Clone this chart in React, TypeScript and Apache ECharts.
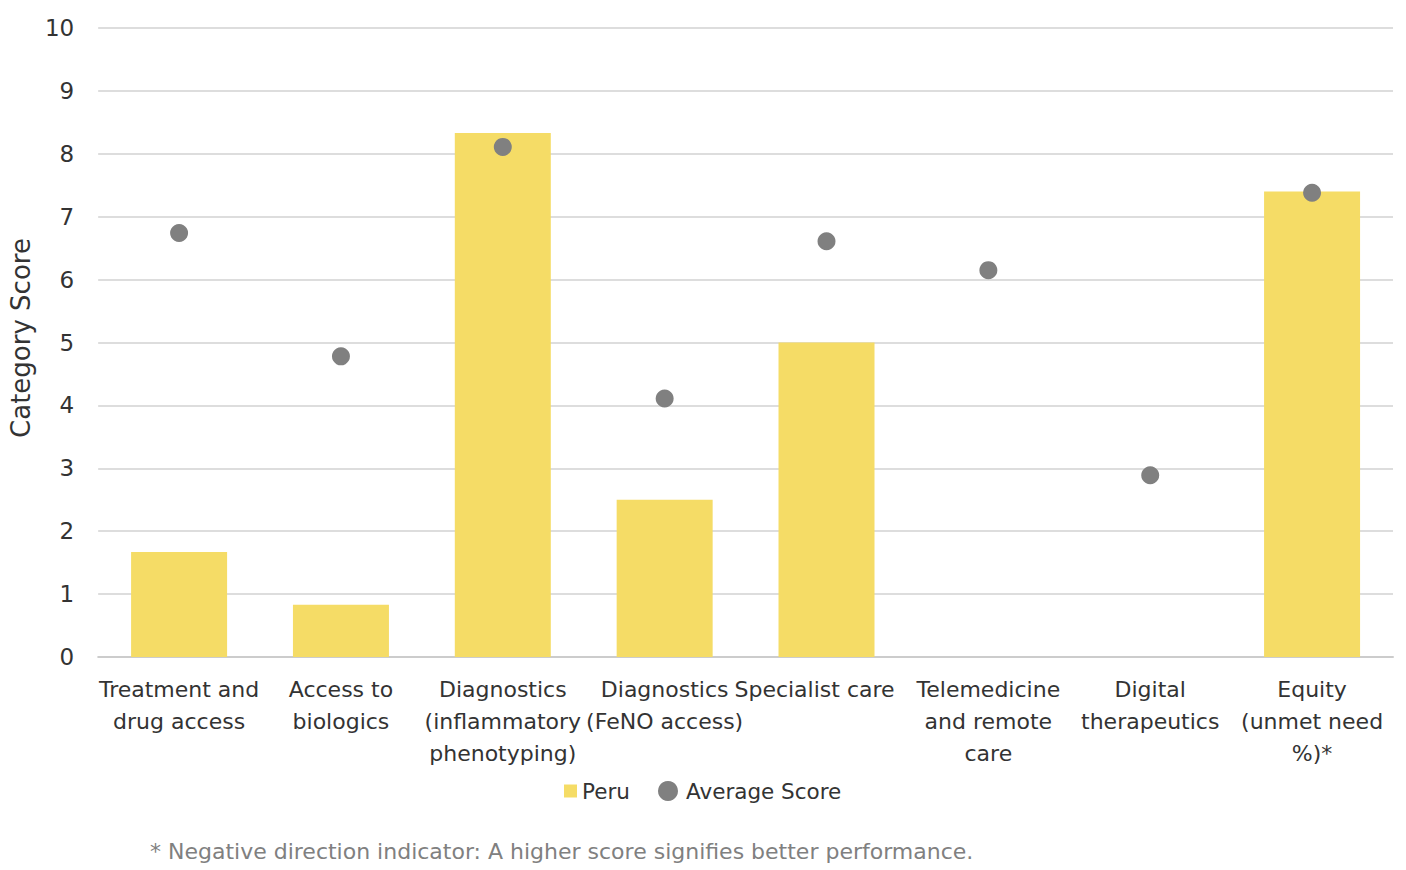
import React, { useEffect, useRef } from "react";
import * as echarts from "echarts";

const categories = [
  "Treatment and\ndrug access",
  "Access to\nbiologics",
  "Diagnostics\n(inflammatory\nphenotyping)",
  "Diagnostics\n(FeNO access)",
  "Specialist care",
  "Telemedicine\nand remote\ncare",
  "Digital\ntherapeutics",
  "Equity\n(unmet need\n%)*",
];
const peruValues = [1.67, 0.83, 8.33, 2.5, 5.0, 0, 0, 7.4];
const averageValues = [6.74, 4.78, 8.11, 4.11, 6.61, 6.15, 2.89, 7.38];
const footnote = "* Negative direction indicator: A higher score signifies better performance.";

export default function App() {
  const ref = useRef<HTMLDivElement>(null);
  useEffect(() => {
    document.body.style.margin = "0";
    const chart = echarts.init(ref.current!, undefined, { renderer: "svg" });
    const font = "DejaVu Sans";
    const legendText = { fontSize: 21.5, color: "#333", fontFamily: font };
    chart.setOption({
      animation: false,
      textStyle: { fontFamily: font },
      grid: { left: 97, right: 13, top: 28, bottom: 213 },
      legend: [
        {
          left: 559,
          top: 775,
          itemWidth: 13,
          itemHeight: 13,
          itemGap: 5,
          textStyle: legendText,
          data: [{ name: "Peru", icon: "rect", itemStyle: { color: "#F5DC66" } }],
        },
        {
          left: 653,
          top: 775,
          itemWidth: 20,
          itemHeight: 20,
          textStyle: { ...legendText, padding: [0, 0, 0, 3] },
          data: [
            { name: "Average Score", icon: "circle", itemStyle: { color: "#808080", opacity: 1 } },
          ],
        },
      ],
      graphic: [
        {
          type: "text",
          left: 150,
          top: 840,
          style: { text: footnote, fontSize: 22, fill: "#808080", fontFamily: font },
        },
      ],
      xAxis: {
        type: "category",
        data: categories.map((c) =>
          c === "Specialist care" ? { value: c, textStyle: { padding: [0, 24, 0, 0] } } : c
        ),
        axisLine: { show: true, lineStyle: { color: "#cccccc", width: 2 } },
        axisTick: { show: false },
        axisLabel: {
          interval: 0,
          fontSize: 22,
          color: "#333",
          lineHeight: 32,
          margin: 16,
          fontFamily: font,
        },
      },
      yAxis: {
        type: "value",
        min: 0,
        max: 10,
        interval: 1,
        name: "Category Score",
        nameLocation: "middle",
        nameGap: 61,
        nameTextStyle: { fontSize: 26, color: "#333", fontFamily: font, padding: [0, 0, 0, 9] },
        axisLine: { show: false },
        axisTick: { show: false },
        axisLabel: { fontSize: 23, color: "#333", margin: 24, fontFamily: font },
        splitLine: { lineStyle: { color: "#dddddd", width: 2 } },
      },
      series: [
        {
          name: "Peru",
          type: "bar",
          data: peruValues,
          barWidth: 96,
          itemStyle: { color: "#F5DC66" },
        },
        {
          name: "Average Score",
          type: "scatter",
          data: averageValues,
          symbol: "circle",
          symbolSize: 18,
          itemStyle: { color: "#808080", opacity: 1 },
        },
      ],
    });
    return () => chart.dispose();
  }, []);
  return <div ref={ref} style={{ width: 1406, height: 870 }} />;
}
